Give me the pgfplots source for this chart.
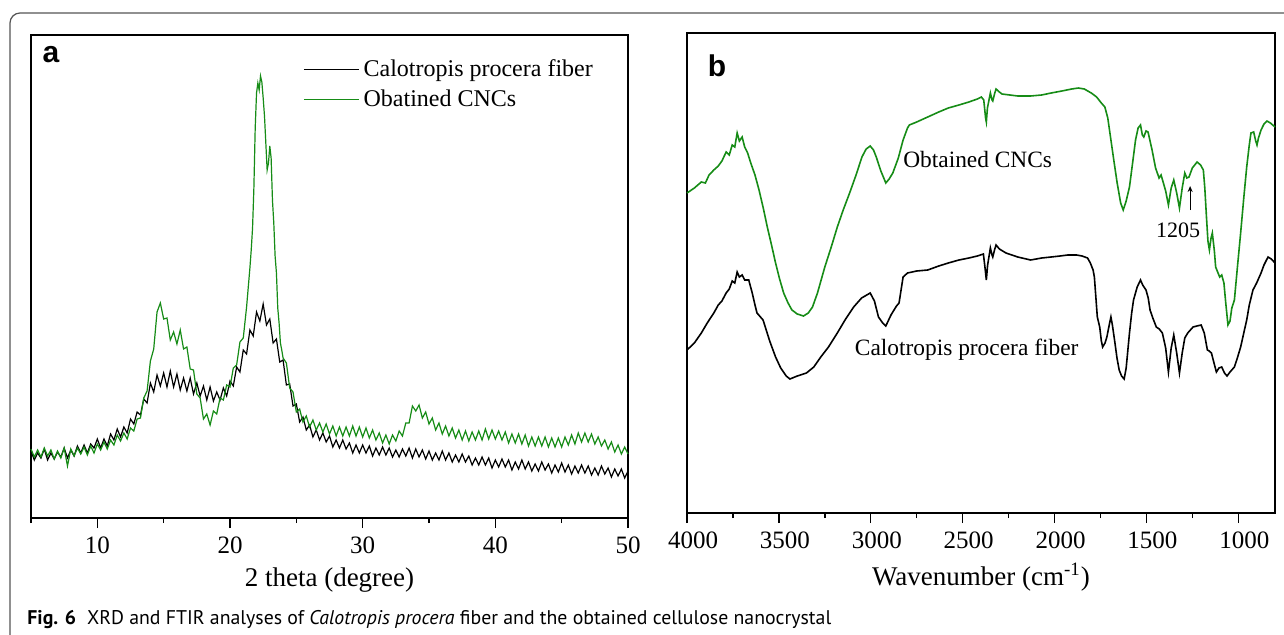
\documentclass[border=0pt]{standalone}
\usepackage{pgfplots}
\pgfplotsset{compat=1.18}
\usepackage{fontspec}
\usepackage{graphicx}
\setmainfont{Liberation Serif}
\newfontfamily\capfont{PT Sans}
\newfontfamily\labfont{Liberation Sans}
\definecolor{cncgreen}{RGB}{22,140,22}
\definecolor{framegray}{RGB}{85,85,85}
\usetikzlibrary{arrows.meta}

\pgfplotstableread{
x y
5.00 67
5.25 58
5.50 65
5.75 60
6.00 69
6.25 58
6.50 65
6.75 59
7.00 66
7.25 61
7.50 70
7.75 60
8.00 68
8.25 62
8.50 72
8.75 65
9.00 73
9.25 65
9.50 74
9.75 70
10.00 79
10.25 70
10.50 79
10.75 72
11.00 84
11.25 78
11.50 89
11.75 81
12.00 91
12.25 85
12.50 99
12.75 94
13.00 106
13.25 103
13.50 119
13.75 115
14.00 135
14.25 126
14.50 143
14.75 132
15.00 145
15.25 131
15.50 147
15.75 131
16.00 144
16.25 128
16.50 140
16.75 127
17.00 140
17.25 124
17.50 135
17.75 122
18.00 132
18.25 118
18.50 131
18.75 117
19.00 126
19.25 118
19.50 130
19.75 122
20.00 137
20.25 132
20.50 151
20.75 146
21.00 168
21.25 164
21.50 188
21.75 182
22.00 206
22.25 197
22.50 214
22.75 193
23.00 199
23.25 175
23.50 179
23.75 156
24.00 158
24.25 133
24.50 134
24.75 112
25.00 114
25.25 96
25.50 101
25.75 88
26.00 93
26.25 81
26.50 88
26.75 78
27.00 85
27.25 76
27.50 82
27.75 71
28.00 78
28.25 70
28.50 78
28.75 69
29.00 75
29.25 65
29.50 73
29.75 65
30.00 73
30.25 65
30.50 72
30.75 62
31.00 70
31.25 63
31.50 71
31.75 63
32.00 70
32.25 61
32.50 68
32.75 61
33.00 69
33.25 62
33.50 70
33.75 60
34.00 69
34.25 61
34.50 68
34.75 59
35.00 67
35.25 58
35.50 65
35.75 58
36.00 67
36.25 58
36.50 65
36.75 56
37.00 63
37.25 56
37.50 64
37.75 56
38.00 62
38.25 53
38.50 60
38.75 53
39.00 61
39.25 53
39.50 60
39.75 50
40.00 58
40.25 51
40.50 59
40.75 51
41.00 58
41.25 48
41.50 56
41.75 49
42.00 58
42.25 49
42.50 56
42.75 47
43.00 54
43.25 47
43.50 56
43.75 48
44.00 54
44.25 45
44.50 53
44.75 46
45.00 55
45.25 46
45.50 53
45.75 44
46.00 52
46.25 45
46.50 53
46.75 45
47.00 52
47.25 43
47.50 50
47.75 43
48.00 52
48.25 44
48.50 50
48.75 41
49.00 49
49.25 42
49.50 49
49.75 40
50.00 47
}\xrdfiber

\pgfplotstableread{
x y
5.00 69
5.25 61
5.50 68
5.75 61
6.00 70
6.25 62
6.50 68
6.75 59
7.00 67
7.25 60
7.50 70
7.75 52
8.00 69
8.25 62
8.50 70
8.75 64
9.00 71
9.25 63
9.50 72
9.75 65
10.00 74
10.25 68
10.50 76
10.75 69
11.00 78
11.25 73
11.50 83
11.75 77
12.00 85
12.25 79
12.50 90
12.75 87
13.00 99
13.25 100
13.50 120
13.75 127
14.00 157
14.25 169
14.50 206
14.75 215
15.00 199
15.25 200
15.50 178
15.75 186
16.00 174
16.25 188
16.50 169
16.75 171
17.00 149
17.25 148
17.50 124
17.75 120
18.00 99
18.25 104
18.50 93
18.75 107
19.00 104
19.25 120
19.50 118
19.75 133
20.00 131
20.25 150
20.50 153
20.75 176
21.00 180
21.25 211
21.50 250
21.60 268
21.70 290
21.80 330
21.90 390
22.00 425
22.10 435
22.20 428
22.30 442
22.40 436
22.50 420
22.60 402
22.70 375
22.80 348
22.90 355
23.00 372
23.10 360
23.20 318
23.30 295
23.40 262
23.50 245
23.60 210
23.70 195
23.80 175
23.90 168
24.00 160
24.25 155
24.50 130
24.75 126
25.00 106
25.25 109
25.50 96
25.75 102
26.00 91
26.25 98
26.50 88
26.75 95
27.00 86
27.25 94
27.50 84
27.75 92
28.00 82
28.25 91
28.50 82
28.75 91
29.00 82
29.25 92
29.50 82
29.75 91
30.00 81
30.25 90
30.50 80
30.75 88
31.00 78
31.25 85
31.50 75
31.75 83
32.00 74
32.25 83
32.50 77
32.75 87
33.00 82
33.25 95
33.50 95
33.75 112
34.00 107
34.25 113
34.50 100
34.75 106
35.00 94
35.25 100
35.50 88
35.75 95
36.00 84
36.25 92
36.50 82
36.75 90
37.00 80
37.25 88
37.50 78
37.75 87
38.00 77
38.25 86
38.50 78
38.75 87
39.00 78
39.25 89
39.50 79
39.75 88
40.00 79
40.25 87
40.50 78
40.75 86
41.00 75
41.25 84
41.50 75
41.75 84
42.00 74
42.25 83
42.50 72
42.75 81
43.00 72
43.25 81
43.50 72
43.75 81
44.00 71
44.25 80
44.50 71
44.75 80
45.00 71
45.25 81
45.50 73
45.75 83
46.00 74
46.25 85
46.50 76
46.75 85
47.00 76
47.25 84
47.50 74
47.75 81
48.00 72
48.25 78
48.50 69
48.75 76
49.00 66
49.25 73
49.50 64
49.75 71
50.00 64
}\xrdcnc

\pgfplotsset{
  panel/.style={
    scale only axis,
    axis line style={line width=0.7pt},
    ytick=\empty,
    tick align=outside,
    xtick pos=lower,
    major tick length=5pt,
    minor tick length=2.6pt,
    every tick/.style={line width=0.7pt, black},
    /pgf/number format/assume math mode=true,
    /pgf/number format/1000 sep={},
    xticklabel style={font=\fontsize{12.5}{12.5}\selectfont, yshift=-1pt},
    xlabel style={font=\fontsize{13.5}{14}\selectfont},
    clip=false,
  }
}

\begin{document}
\begin{tikzpicture}
\useasboundingbox (0pt,0pt) rectangle (642pt,317pt);
\fill[white] (0pt,0pt) rectangle (642pt,317pt);
\draw[framegray, line width=0.6pt, rounded corners=5pt] (5pt,-20pt) -- (5pt,310.5pt) -- (700pt,310.5pt);

% Panel a
\begin{axis}[panel,
  at={(15.5pt,58pt)}, anchor=south west,
  width=298.5pt, height=241.5pt,
  xmin=5, xmax=50, ymin=0, ymax=483,
  xtick={10,20,30,40,50},
  minor xtick={5,15,25,35,45},
  xlabel={2 theta (degree)},
  legend style={at={(0.4556,0.958)}, anchor=north west, draw=none, fill=none,
    font=\fontsize{12}{13}\selectfont, inner sep=0pt, row sep=1pt,
    cells={anchor=west}},
  legend image code/.code={\draw[#1] (0pt,0pt) -- (27.5pt,0pt);},
]
\addplot[black, line width=0.6pt] table[x=x,y=y] {\xrdfiber};
\addlegendentry{Calotropis procera fiber}
\addplot[cncgreen, line width=0.6pt] table[x=x,y=y] {\xrdcnc};
\addlegendentry{Obatined CNCs}
\draw[line width=1.1pt] (rel axis cs:0,0) -- (rel axis cs:1,0);
\node[font=\labfont\bfseries\fontsize{15}{15}\selectfont] at (rel axis cs:0.0335,0.9586) {a};
\end{axis}

% Panel b
\begin{axis}[panel,
  at={(343.5pt,60.5pt)}, anchor=south west,
  width=294pt, height=240pt,
  x dir=reverse,
  xmin=800, xmax=4000, ymin=0, ymax=480,
  xtick={1000,1500,2000,2500,3000,3500,4000},
  minor xtick={1250,1750,2250,2750,3250,3750},
  xticklabel style={xshift=3pt},
  xlabel={Wavenumber (cm\textsuperscript{-1})},
]
\addplot[cncgreen, line width=0.8pt] coordinates {
(4000,320) (3960,325) (3922,331) (3900,330) (3880,338) (3854,343) (3830,347) (3810,352) (3787,361) (3770,358) (3754,368) (3740,366) (3727,380) (3715,372) (3700,376) (3686,366) (3670,360) (3653,350) (3630,338) (3608,323) (3585,305) (3563,286) (3540,268) (3518,250) (3496,234) (3474,220) (3450,210) (3429,203) (3400,199) (3366,197) (3340,200) (3317,206) (3290,220) (3250,246) (3215,266) (3182,286) (3150,303) (3115,320) (3080,338) (3048,356) (3025,364) (3003,367) (2985,363) (2970,356) (2945,342) (2918,330) (2900,334) (2880,340) (2850,355) (2824,373) (2800,385) (2790,388) (2750,391) (2690,396) (2630,401) (2578,405) (2520,408) (2466,411) (2420,414) (2398,416) (2385,413) (2375,395) (2371,391) (2365,405) (2349,420) (2340,413) (2336,412) (2325,420) (2318,424) (2300,421) (2286,419) (2200,417) (2130,417) (2070,418) (2018,420) (1960,422) (1906,424) (1870,425) (1838,424) (1800,420) (1771,416) (1745,410) (1726,406) (1710,395) (1693,373) (1675,350) (1659,330) (1640,310) (1626,303) (1610,312) (1592,326) (1575,350) (1559,373) (1545,385) (1532,388) (1522,378) (1514,376) (1502,382) (1491,381) (1480,372) (1469,363) (1450,345) (1431,335) (1420,338) (1409,331) (1395,322) (1380,308) (1365,325) (1351,333) (1335,320) (1320,305) (1305,325) (1291,340) (1280,335) (1268,336) (1250,345) (1224,351) (1205,348) (1190,343) (1182,325) (1173,296) (1165,272) (1157,263) (1148,275) (1141,280) (1130,262) (1123,246) (1110,240) (1101,236) (1090,238) (1078,230) (1068,210) (1056,188) (1045,192) (1035,205) (1021,213) (1005,245) (987,280) (970,315) (954,346) (940,368) (931,380) (916,381) (905,372) (898,368) (890,375) (876,383) (860,389) (844,392) (825,390) (800,386)
};
\addplot[black, line width=0.8pt] coordinates {
(4000,163) (3960,170) (3922,180) (3890,190) (3854,200) (3830,208) (3810,212) (3787,220) (3770,224) (3754,232) (3740,230) (3727,241) (3715,236) (3700,238) (3686,233) (3664,233) (3645,220) (3630,208) (3619,200) (3586,193) (3550,172) (3518,156) (3490,145) (3460,137) (3440,134) (3400,137) (3350,140) (3310,146) (3272,156) (3230,166) (3182,180) (3140,193) (3093,206) (3050,215) (3003,220) (2980,212) (2958,196) (2935,190) (2918,187) (2890,198) (2860,207) (2846,210) (2824,236) (2800,240) (2750,242) (2690,243) (2630,247) (2578,250) (2520,253) (2466,255) (2420,257) (2387,259) (2378,245) (2371,233) (2364,248) (2349,265) (2340,258) (2336,256) (2325,264) (2318,268) (2300,264) (2264,260) (2200,256) (2130,253) (2070,255) (2018,256) (1970,257) (1928,258) (1880,258) (1850,257) (1820,255) (1805,250) (1790,243) (1783,236) (1767,196) (1754,186) (1745,172) (1738,166) (1725,170) (1715,176) (1700,190) (1693,196) (1685,188) (1671,170) (1660,155) (1648,143) (1635,137) (1621,134) (1610,145) (1592,180) (1580,200) (1570,213) (1550,226) (1532,233) (1520,228) (1502,223) (1490,215) (1480,203) (1465,195) (1446,186) (1430,184) (1413,180) (1395,165) (1380,141) (1365,165) (1351,178) (1335,160) (1320,140) (1305,160) (1291,175) (1275,180) (1246,186) (1225,187) (1202,188) (1185,180) (1168,163) (1158,162) (1146,160) (1132,150) (1119,141) (1105,145) (1090,146) (1075,140) (1061,137) (1045,141) (1021,146) (1005,155) (987,166) (970,180) (954,193) (940,208) (920,223) (900,230) (876,240) (860,248) (838,256) (820,254) (800,250)
};
\draw[line width=1.1pt] (rel axis cs:0,0) -- (rel axis cs:1,0);
\node[font=\labfont\bfseries\fontsize{15}{15}\selectfont] at (rel axis cs:0.051,0.931) {b};
\node[font=\fontsize{11.7}{12}\selectfont] at (axis cs:2418,354) {Obtained CNCs};
\node[font=\fontsize{11.7}{12}\selectfont] at (axis cs:2478,163) {Calotropis procera fiber};
\node[font=\fontsize{11}{12}\selectfont] at (axis cs:1327,283) {1205};
\draw[-{Stealth[length=3pt,width=2.5pt]}, line width=0.5pt] (axis cs:1262,303) -- (axis cs:1262,327);
\end{axis}

\node[anchor=base west, font=\capfont\fontsize{9.9}{12}\selectfont, inner sep=0pt] at (13.5pt,5pt)
  {\textbf{Fig. 6}\hspace{0.55em}XRD and FTIR analyses of \textit{Calotropis procera} fiber and the obtained cellulose nanocrystal};
\end{tikzpicture}
\end{document}
